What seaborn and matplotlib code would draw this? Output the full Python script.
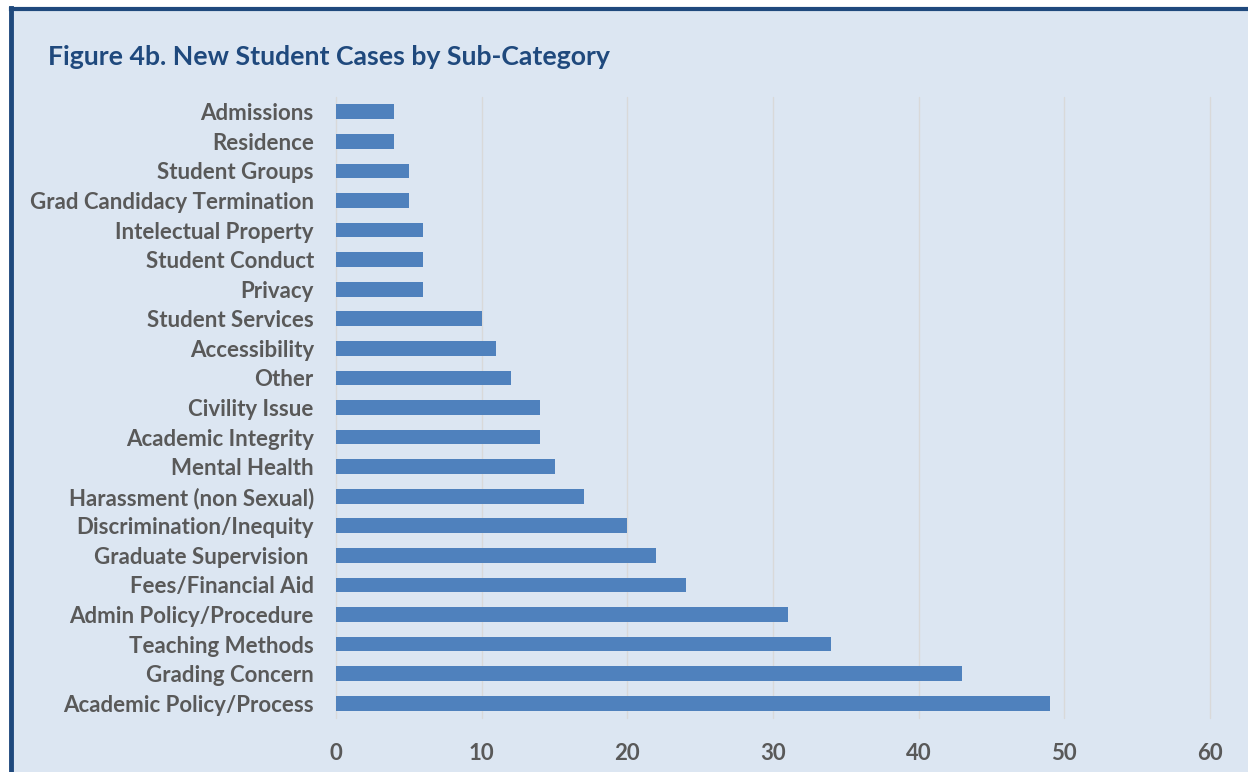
import matplotlib
matplotlib.use("Agg")
import matplotlib.pyplot as plt
import seaborn as sns
import pandas as pd
from matplotlib.patches import Rectangle
from matplotlib.lines import Line2D

categories = [
    "Admissions", "Residence", "Student Groups", "Grad Candidacy Termination",
    "Intelectual Property", "Student Conduct", "Privacy", "Student Services",
    "Accessibility", "Other", "Civility Issue", "Academic Integrity",
    "Mental Health", "Harassment (non Sexual)", "Discrimination/Inequity",
    "Graduate Supervision ", "Fees/Financial Aid", "Admin Policy/Procedure",
    "Teaching Methods", "Grading Concern", "Academic Policy/Process",
]
cases = [4, 4, 5, 5, 6, 6, 6, 10, 11, 12, 14, 14, 15, 17, 20, 22, 24, 31, 34, 43, 49]
x_ticks = [0, 10, 20, 30, 40, 50, 60]
title = "Figure 4b. New Student Cases by Sub-Category"

df = pd.DataFrame({"category": categories, "cases": cases})

sns.set_theme(style="white")
plt.rcParams["font.family"] = ["Lato", "DejaVu Sans"]

BG = "#DCE6F2"
fig = plt.figure(figsize=(12.48, 7.72), dpi=100)
fig.patch.set_facecolor("white")

# chart panel background and border
fig.add_artist(Rectangle((10 / 1248, 0), 1.0, 1 - 8 / 772, transform=fig.transFigure,
                         facecolor=BG, edgecolor="none", zorder=-10))
fig.add_artist(Line2D([10.5 / 1248, 10.5 / 1248], [0, 1 - 8 / 772], transform=fig.transFigure,
                      color="#1F497D", lw=3.5, solid_capstyle="projecting"))
fig.add_artist(Line2D([10.5 / 1248, 1.0], [1 - 8.5 / 772, 1 - 8.5 / 772], transform=fig.transFigure,
                      color="#1F497D", lw=3.0, solid_capstyle="projecting"))

ax = fig.add_axes([336 / 1248, 1 - 718 / 772, (1210 - 336) / 1248, (718 - 97) / 772])
ax.set_facecolor(BG)
sns.barplot(data=df, x="cases", y="category", color="#4F81BD", saturation=1,
            width=0.5, linewidth=0, ax=ax, zorder=3)

ax.set_xlim(0, 60)
ax.set_xticks(x_ticks)
ax.set_xticklabels([str(t) for t in x_ticks])
ax.xaxis.grid(True, color="#D9D9D9", lw=1.0, zorder=0)
for gl in ax.get_xgridlines():
    gl.set_clip_on(False)
ax.set_axisbelow(True)
for s in ax.spines.values():
    s.set_visible(False)
ax.tick_params(axis="both", length=0)
ax.tick_params(axis="y", pad=16)
ax.tick_params(axis="x", pad=18)
ax.set_xlabel("")
ax.set_ylabel("")
for lab in ax.get_yticklabels() + ax.get_xticklabels():
    lab.set_fontsize(16)
    lab.set_fontweight("bold")
    lab.set_color("#595959")

fig.text(48 / 1248, 1 - 57 / 772, title, fontsize=19.2, fontweight="bold",
         color="#1F497D", va="center", ha="left")

fig.savefig("out.png", dpi=100, facecolor=fig.get_facecolor())
